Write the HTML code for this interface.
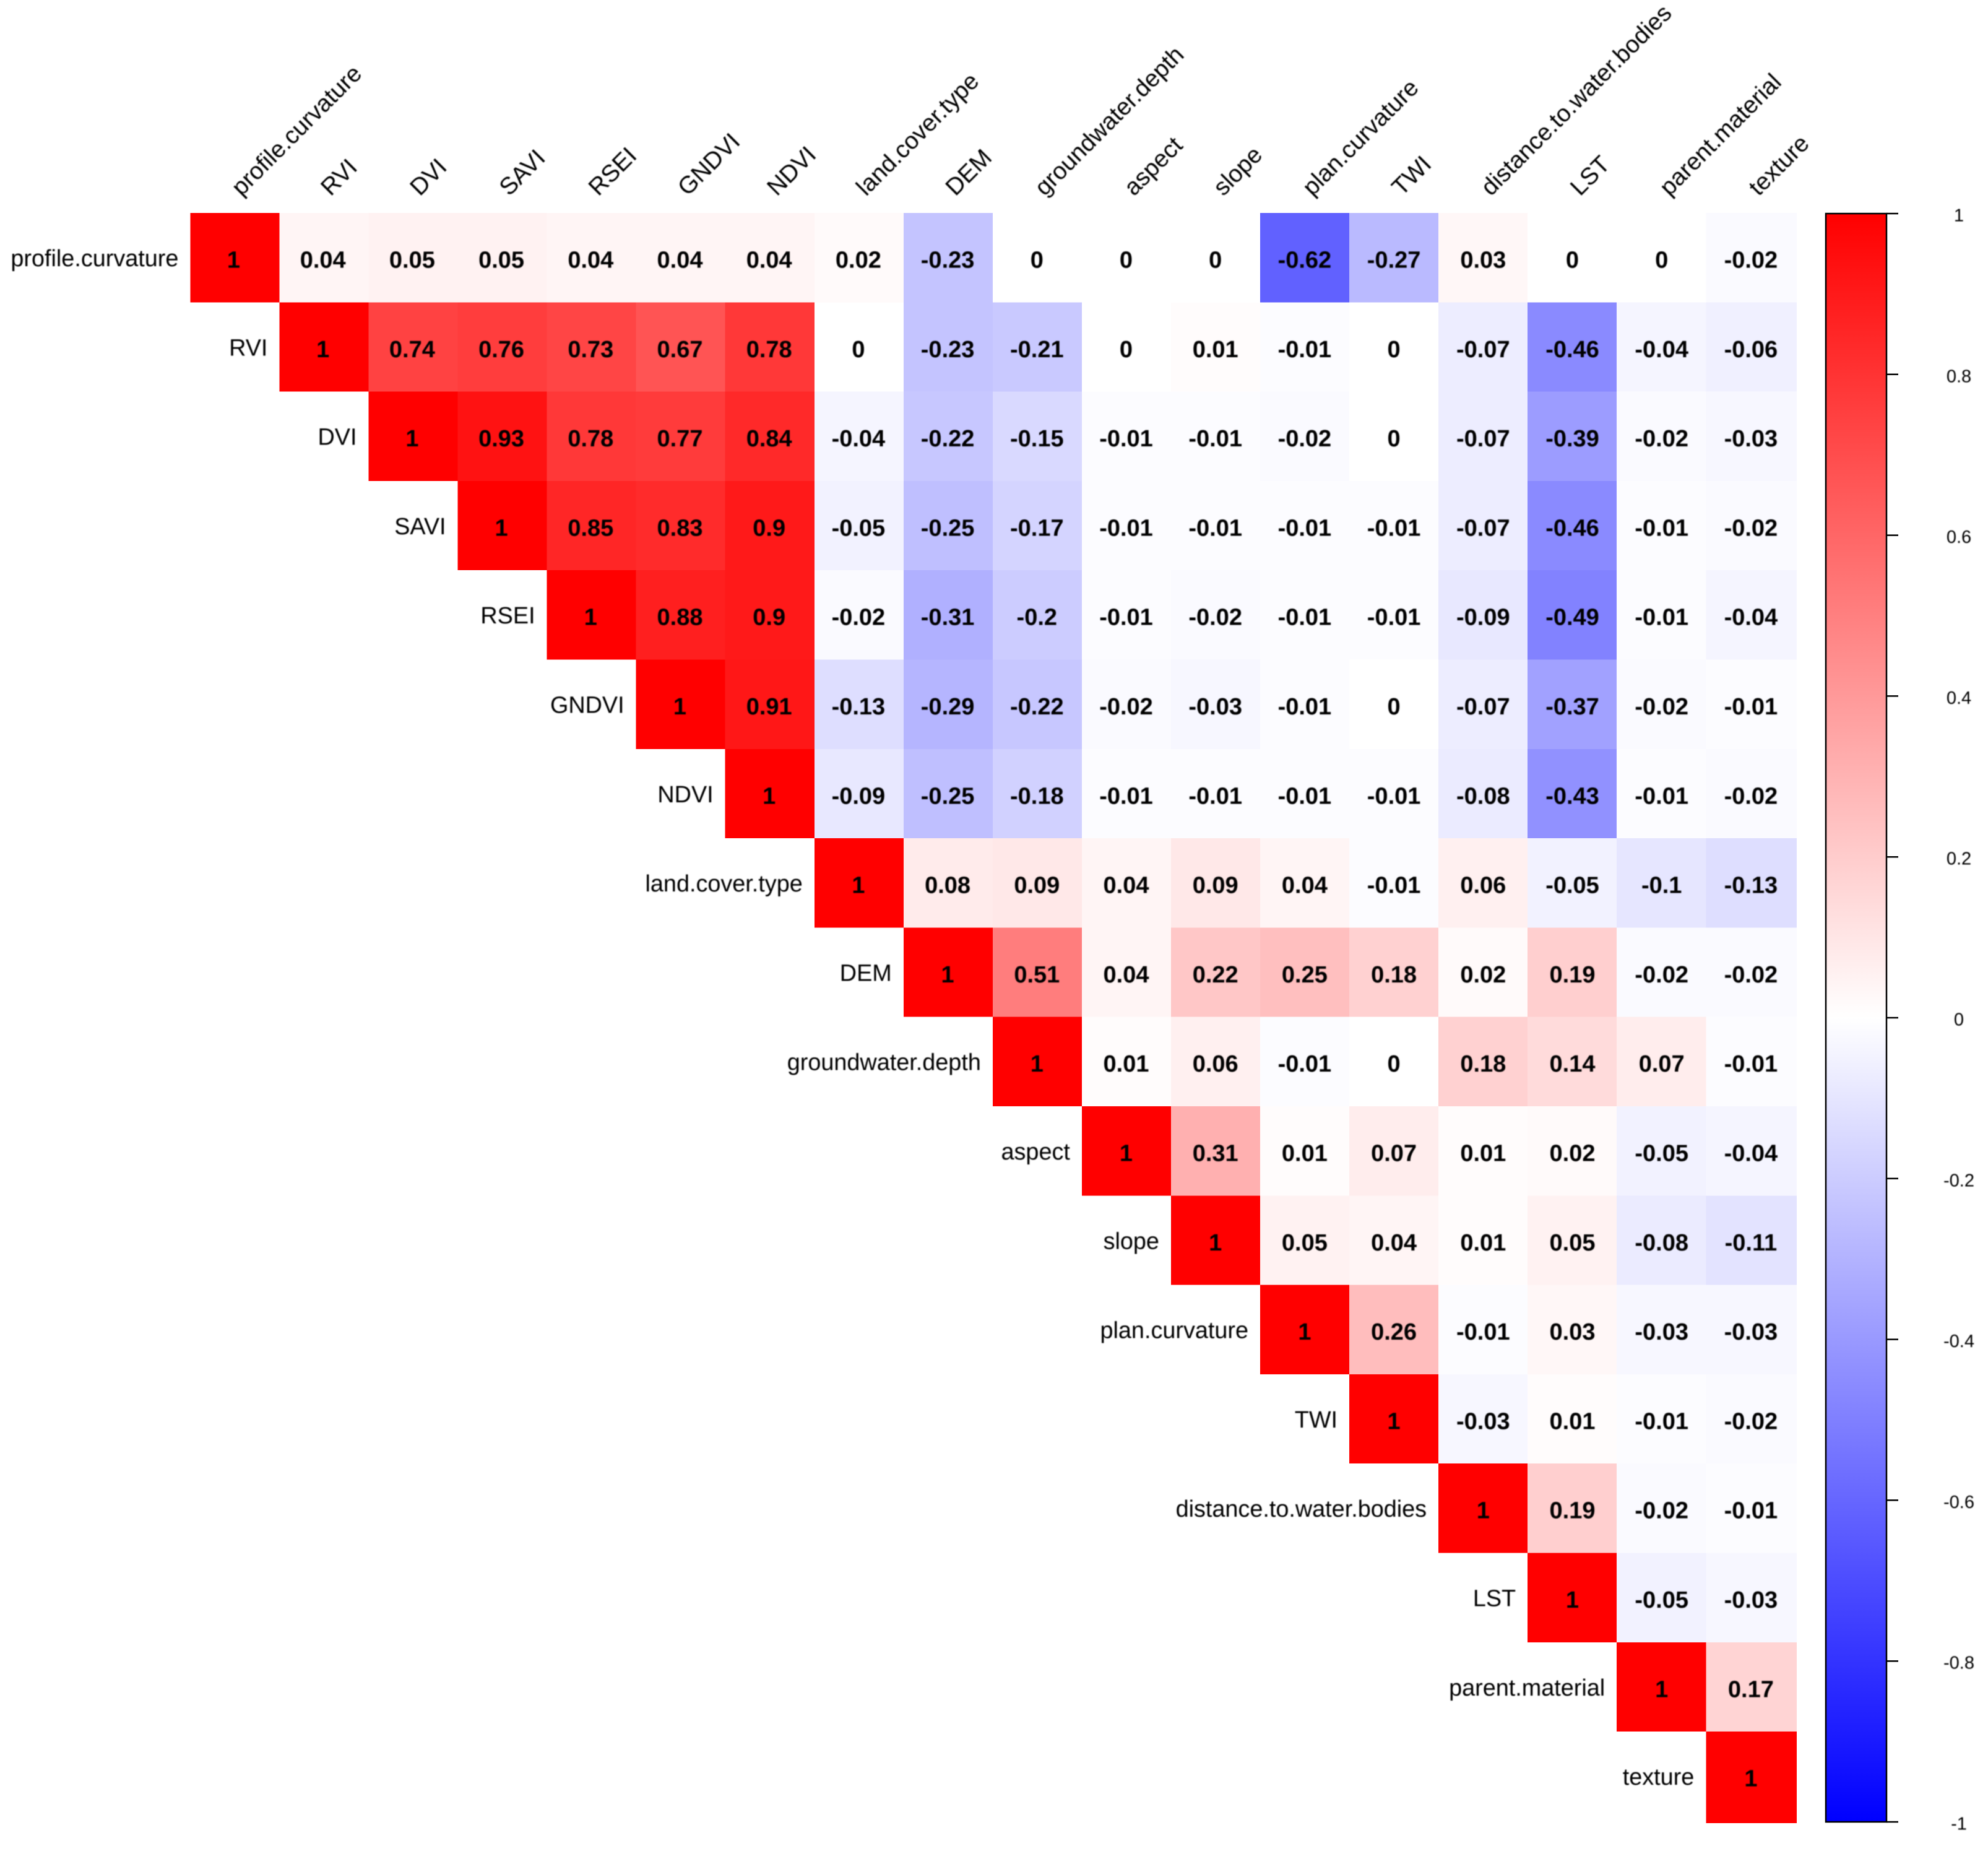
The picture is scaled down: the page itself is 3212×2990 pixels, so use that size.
<!DOCTYPE html>
<html lang="en">
<head>
<meta charset="utf-8">
<title>Correlation matrix heatmap</title>
<style>
html,body{margin:0;padding:0;background:#fff;}
body{width:3212px;height:2990px;overflow:hidden;}
svg{display:block;}
text{font-family:"Liberation Sans",sans-serif;fill:#000;}
.soft{filter:blur(0.8px);}
</style>
</head>
<body>
<svg id="chart" xmlns="http://www.w3.org/2000/svg" width="3212" height="2990" viewBox="0 0 3212 2990">
  <defs>
    <linearGradient id="legend-gradient" x1="0" y1="0" x2="0" y2="1">
      <stop offset="0" stop-color="#ff0000"/>
      <stop offset="0.5" stop-color="#ffffff"/>
      <stop offset="1" stop-color="#0000ff"/>
    </linearGradient>
  </defs>
  <rect x="0" y="0" width="3212" height="2990" fill="#ffffff"/>
  <g id="cells" shape-rendering="crispEdges"></g>
  <g id="values" class="soft"></g>
  <g id="row-labels" class="soft"></g>
  <g id="col-labels" class="soft"></g>
  <g id="legend"></g>
</svg>
<script>
const variables = ["profile.curvature","RVI","DVI","SAVI","RSEI","GNDVI","NDVI","land.cover.type","DEM","groundwater.depth","aspect","slope","plan.curvature","TWI","distance.to.water.bodies","LST","parent.material","texture"];
const rowProfileCurvature = [1,0.04,0.05,0.05,0.04,0.04,0.04,0.02,-0.23,0,0,0,-0.62,-0.27,0.03,0,0,-0.02];
const rowRVI = [1,0.74,0.76,0.73,0.67,0.78,0,-0.23,-0.21,0,0.01,-0.01,0,-0.07,-0.46,-0.04,-0.06];
const rowDVI = [1,0.93,0.78,0.77,0.84,-0.04,-0.22,-0.15,-0.01,-0.01,-0.02,0,-0.07,-0.39,-0.02,-0.03];
const rowSAVI = [1,0.85,0.83,0.9,-0.05,-0.25,-0.17,-0.01,-0.01,-0.01,-0.01,-0.07,-0.46,-0.01,-0.02];
const rowRSEI = [1,0.88,0.9,-0.02,-0.31,-0.2,-0.01,-0.02,-0.01,-0.01,-0.09,-0.49,-0.01,-0.04];
const rowGNDVI = [1,0.91,-0.13,-0.29,-0.22,-0.02,-0.03,-0.01,0,-0.07,-0.37,-0.02,-0.01];
const rowNDVI = [1,-0.09,-0.25,-0.18,-0.01,-0.01,-0.01,-0.01,-0.08,-0.43,-0.01,-0.02];
const rowLandCover = [1,0.08,0.09,0.04,0.09,0.04,-0.01,0.06,-0.05,-0.1,-0.13];
const rowDEM = [1,0.51,0.04,0.22,0.25,0.18,0.02,0.19,-0.02,-0.02];
const rowGroundwater = [1,0.01,0.06,-0.01,0,0.18,0.14,0.07,-0.01];
const rowAspect = [1,0.31,0.01,0.07,0.01,0.02,-0.05,-0.04];
const rowSlope = [1,0.05,0.04,0.01,0.05,-0.08,-0.11];
const rowPlanCurvature = [1,0.26,-0.01,0.03,-0.03,-0.03];
const rowTWI = [1,-0.03,0.01,-0.01,-0.02];
const rowDistance = [1,0.19,-0.02,-0.01];
const rowLST = [1,-0.05,-0.03];
const rowParent = [1,0.17];
const rowTexture = [1];
const legendTicks = [1,0.8,0.6,0.4,0.2,0,-0.2,-0.4,-0.6,-0.8,-1];

const matrixRows = [rowProfileCurvature,rowRVI,rowDVI,rowSAVI,rowRSEI,rowGNDVI,rowNDVI,rowLandCover,rowDEM,rowGroundwater,rowAspect,rowSlope,rowPlanCurvature,rowTWI,rowDistance,rowLST,rowParent,rowTexture];

const SVG_NS = "http://www.w3.org/2000/svg";
const gridLeft = 307.4, gridRight = 2903, gridTop = 344, gridBottom = 2945;
const cellW = 144.05, cellH = 144.3;
const legendLeft = 2950, legendRight = 3048, legendTop = 345, legendBottom = 2943;
const lastIndex = variables.length - 1;

function xLeft(col){ return gridLeft + col * cellW; }
function yTop(row){ return gridTop + row * cellH; }
function xRight(col){ return col === lastIndex ? gridRight : xLeft(col + 1); }
function yBottom(row){ return row === lastIndex ? gridBottom : yTop(row + 1); }
function xText(col){ return 377.5 + col * 144.2; }
function valueBaseline(row){ return 432.5 + row * 144.3; }
function labelBaseline(row){ return 430 + row * 144.3; }
function legendY(v){ return legendTop + (1 - v) / 2 * (legendBottom - legendTop); }
function colorFor(v){
  const t = Math.min(1, Math.abs(v));
  const c = Math.round(255 * (1 - t));
  return v >= 0 ? `rgb(255,${c},${c})` : `rgb(${c},${c},255)`;
}
function make(tag, attrs, parent, content){
  const el = document.createElementNS(SVG_NS, tag);
  for (const k in attrs) el.setAttribute(k, attrs[k]);
  if (content !== undefined) el.textContent = content;
  parent.appendChild(el);
  return el;
}

const cellsG = document.getElementById("cells");
const valuesG = document.getElementById("values");
const rowLabelsG = document.getElementById("row-labels");
const colLabelsG = document.getElementById("col-labels");
const legendG = document.getElementById("legend");

matrixRows.forEach(function(rowValues, r){
  rowValues.forEach(function(v, k){
    const c = r + k;
    const cell = make("rect", {x:xLeft(c), y:yTop(r), width:xRight(c) - xLeft(c), height:yBottom(r) - yTop(r), fill:colorFor(v)}, cellsG);
    
    
    const txt = make("text", {x:xText(c), y:valueBaseline(r), "text-anchor":"middle", "font-size":38, "font-weight":"bold"}, valuesG, String(v));
    
    
  });
});

variables.forEach(function(name, i){
  const rowLabel = make("text", {x:xLeft(i) - 19, y:labelBaseline(i), "text-anchor":"end", "font-size":37.8}, rowLabelsG, name);
  
  
  const cx = xText(i) + 12.5, cy = 318;
  const colLabel = make("text", {x:cx, y:cy, "font-size":38.8, transform:`rotate(-45 ${cx} ${cy})`}, colLabelsG, name);
  
  
});

const legendBar = make("rect", {x:legendLeft, y:legendTop, width:legendRight - legendLeft, height:legendBottom - legendTop, fill:"url(#legend-gradient)", stroke:"#000", "stroke-width":2.5}, legendG);



legendTicks.forEach(function(v){
  const y = legendY(v);
  const tick = make("line", {x1:legendRight, x2:3067, y1:y, y2:y, stroke:"#000", "stroke-width":2.5}, legendG);
  
  
  const label = make("text", {x:3165, y:y + 12.5, "text-anchor":"middle", "font-size":29, "class":"soft"}, legendG, String(v));
  
  
});
</script>
</body>
</html>
